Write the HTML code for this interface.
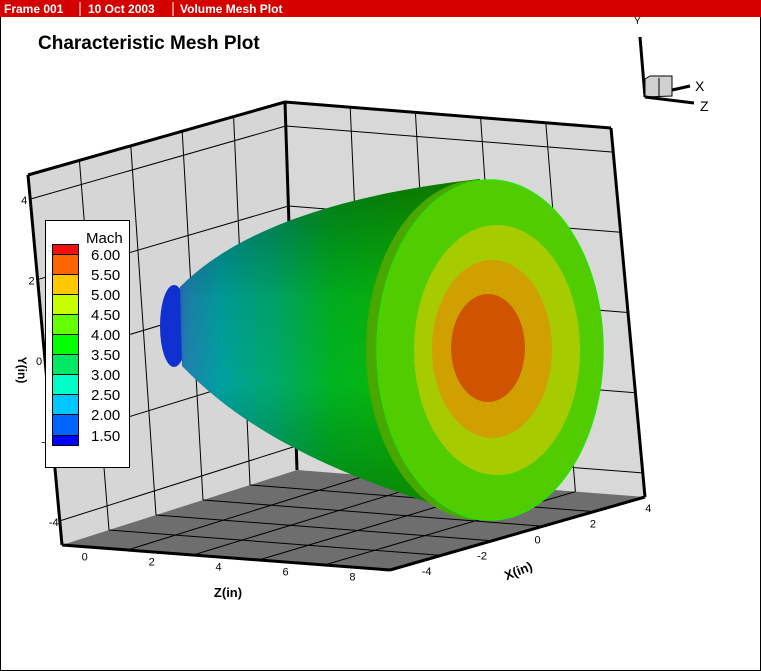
<!DOCTYPE html>
<html><head><meta charset="utf-8"><style>
html,body{margin:0;padding:0;background:#fff}
svg{display:block}
text{font-family:"Liberation Sans",sans-serif}
</style></head><body>
<svg id="chart" width="761" height="671" viewBox="0 0 761 671" xmlns="http://www.w3.org/2000/svg">
<defs>
<linearGradient id="bodyGrad" x1="170" y1="0" x2="420" y2="0" gradientUnits="userSpaceOnUse">
<stop offset="0" stop-color="#1a40d0"/>
<stop offset="0.06" stop-color="#2080b0"/>
<stop offset="0.2" stop-color="#00a0a0"/>
<stop offset="0.4" stop-color="#00a870"/>
<stop offset="0.65" stop-color="#00b420"/>
<stop offset="1" stop-color="#10b800"/>
</linearGradient>
<linearGradient id="shadeGrad" x1="0" y1="180" x2="0" y2="520" gradientUnits="userSpaceOnUse">
<stop offset="0" stop-color="#000" stop-opacity="0.35"/>
<stop offset="0.35" stop-color="#000" stop-opacity="0.05"/>
<stop offset="0.6" stop-color="#000" stop-opacity="0"/>
<stop offset="1" stop-color="#000" stop-opacity="0.3"/>
</linearGradient>
</defs>
<rect x="0.5" y="0.5" width="760" height="670" fill="#fff" stroke="#000"/>
<rect x="0" y="0" width="761" height="17" fill="#d40000"/>
<text x="4" y="13" fill="#fff" font-size="12" font-weight="bold">Frame 001</text>
<line x1="80" y1="2" x2="80" y2="16" stroke="#fff"/>
<text x="88" y="13" fill="#fff" font-size="12" font-weight="bold">10 Oct 2003</text>
<line x1="173" y1="2" x2="173" y2="16" stroke="#fff"/>
<text x="180" y="13" fill="#fff" font-size="12" font-weight="bold">Volume Mesh Plot</text>
<text x="38" y="49" font-size="19" font-weight="bold" fill="#000">Characteristic Mesh Plot</text>

<g id="walls"></g>
<g id="body">
<ellipse cx="174" cy="326" rx="14" ry="41" fill="#1030d0"/>
<path d="M180,287 C215,252 290,200 480,179 L490,520 C300,470 225,410 182,366 Z" fill="url(#bodyGrad)"/>
<path d="M180,287 C215,252 290,200 480,179 L490,520 C300,470 225,410 182,366 Z" fill="url(#shadeGrad)"/>
<ellipse cx="478" cy="350" rx="112" ry="170" fill="#48a800"/>
<ellipse cx="490" cy="350" rx="113" ry="170" fill="#50cc00" stroke="#30e000" stroke-width="1.5"/>
<ellipse cx="497" cy="350" rx="83" ry="125" fill="#a6cc00"/>
<ellipse cx="492" cy="349" rx="60" ry="89" fill="#d0a000"/>
<ellipse cx="488" cy="348" rx="37" ry="54" fill="#d05400"/>
</g>
<g id="labels"></g>

<g>
<rect x="45.5" y="220.5" width="84" height="247" fill="#fff" stroke="#000"/>
<text x="86" y="243" font-size="15">Mach</text>
<g id="legendItems"></g>
</g>

<g>
<line x1="640" y1="37" x2="645" y2="97" stroke="#000" stroke-width="3"/>
<text x="634" y="24" font-size="10">Y</text>
<polygon points="645,79 650,76 672,76 672,96 645,97" fill="#d0d0d0" stroke="#000"/>
<line x1="659" y1="78" x2="659" y2="96" stroke="#000"/>
<line x1="672" y1="90" x2="690" y2="86" stroke="#000" stroke-width="3"/>
<line x1="645" y1="97" x2="694" y2="103" stroke="#000" stroke-width="3"/>
<text x="695" y="91" font-size="14">X</text>
<text x="700" y="111" font-size="14">Z</text>
</g>
</svg>
<script>
const legendLevels = ["6.00","5.50","5.00","4.50","4.00","3.50","3.00","2.50","2.00","1.50"];
const legendColors = ["#f01010","#ff6400","#ffc800","#c8ff00","#64ff00","#00ff00","#00e864","#00ffc8","#00c8ff","#0064ff","#0000ff"];
const yTicks = [4,2,0,-2,-4];
const zTicks = [0,2,4,6,8];
const xTicks = [-4,-2,0,2,4];
const NS = "http://www.w3.org/2000/svg";
function mk(tag, attrs, parent){const e=document.createElementNS(NS,tag);for(const k in attrs)e.setAttribute(k,attrs[k]);parent.appendChild(e);return e;}
function lerp(a,b,t){return [a[0]+(b[0]-a[0])*t,a[1]+(b[1]-a[1])*t];}
function bil(q,u,v){return lerp(lerp(q[0],q[1],u),lerp(q[3],q[2],u),v);}
const walls=document.getElementById('walls');
const leftWall=[[28,175],[285,102],[297,470],[62,545]];
const rightWall=[[285,102],[611,128],[645,497],[297,470]];
const floorQ=[[62,545],[297,470],[645,497],[390,570]];
const yMin=-4.6,yMax=4.6;
function yv(y){return (yMax-y)/(yMax-yMin);}
function quad(q,fill,name){const p=mk('polygon',{points:q.map(p=>p.join(',')).join(' '),fill:fill,stroke:'none'},walls);

}
quad(leftWall,'#d6d6d6','left-wall');
quad(rightWall,'#d8d8d8','back-wall');
quad(floorQ,'#6e6e6e','floor');
function gl(a,b,name){const l=mk('line',{x1:a[0],y1:a[1],x2:b[0],y2:b[1],stroke:'#000','stroke-width':1},walls);

}
yTicks.forEach(y=>{const v=yv(y);gl(bil(leftWall,0,v),bil(leftWall,1,v),'grid-y');gl(bil(rightWall,0,v),bil(rightWall,1,v),'grid-y');});
[0.2,0.4,0.6,0.8].forEach(u=>{gl(bil(leftWall,u,0),bil(leftWall,u,1),'grid-left-vert');gl(bil(floorQ,0,u),bil(floorQ,1,u),'grid-floor');});
[0.2,0.4,0.6,0.8].forEach(u=>{gl(bil(rightWall,u,0),bil(rightWall,u,1),'grid-back-vert');gl(bil(floorQ,u,0),bil(floorQ,u,1),'grid-floor');});
function edge(a,b){const l=mk('line',{x1:a[0],y1:a[1],x2:b[0],y2:b[1],stroke:'#000','stroke-width':3},walls);

}
edge([28,175],[62,545]);edge([28,175],[285,102]);edge([285,102],[611,128]);edge([285,102],[297,470]);edge([611,128],[645,497]);
edge([62,545],[390,570]);edge([390,570],[645,497]);
const labels=document.getElementById('labels');
function txt(x,y,s,size,name,extra){const t=mk('text',Object.assign({x:x,y:y,'font-size':size,'text-anchor':'middle'},extra||{}),labels);t.textContent=s;

return t;}
yTicks.forEach(y=>{const p=bil(leftWall,0,yv(y));txt(p[0]-6,p[1]+5,String(y),11,'y-tick-label');});
zTicks.forEach(z=>{const t=(z+0.5)/9.8;const p=lerp([62,545],[390,570],t);txt(p[0]+6,p[1]+14,String(z),11,'z-tick-label');});
xTicks.forEach(x=>{const t=(x+4.6)/9.2;const p=lerp([390,570],[645,497],t);txt(p[0]+20,p[1]+10,String(x),11,'x-tick-label');});
txt(228,597,'Z(in)',13,'z-axis-title',{'font-weight':'bold'});
txt(520,575,'X(in)',13,'x-axis-title',{'font-weight':'bold',transform:'rotate(-22 520 575)'});
txt(18,370,'Y(in)',12,'y-axis-title',{'font-weight':'bold',transform:'rotate(90 18 370)'});
const li=document.getElementById('legendItems');
const sy=[244,254,274,294,314,334,354,374,394,414,435,445];
legendColors.forEach((c,i)=>{const r=mk('rect',{x:52.5,y:sy[i]+0.5,width:26,height:sy[i+1]-sy[i],fill:c,stroke:'#000'},li);

});
legendLevels.forEach((s,i)=>{const t=mk('text',{x:91,y:sy[i+1]+6,'font-size':15},li);t.textContent=s;

});
</script>
</body></html>
